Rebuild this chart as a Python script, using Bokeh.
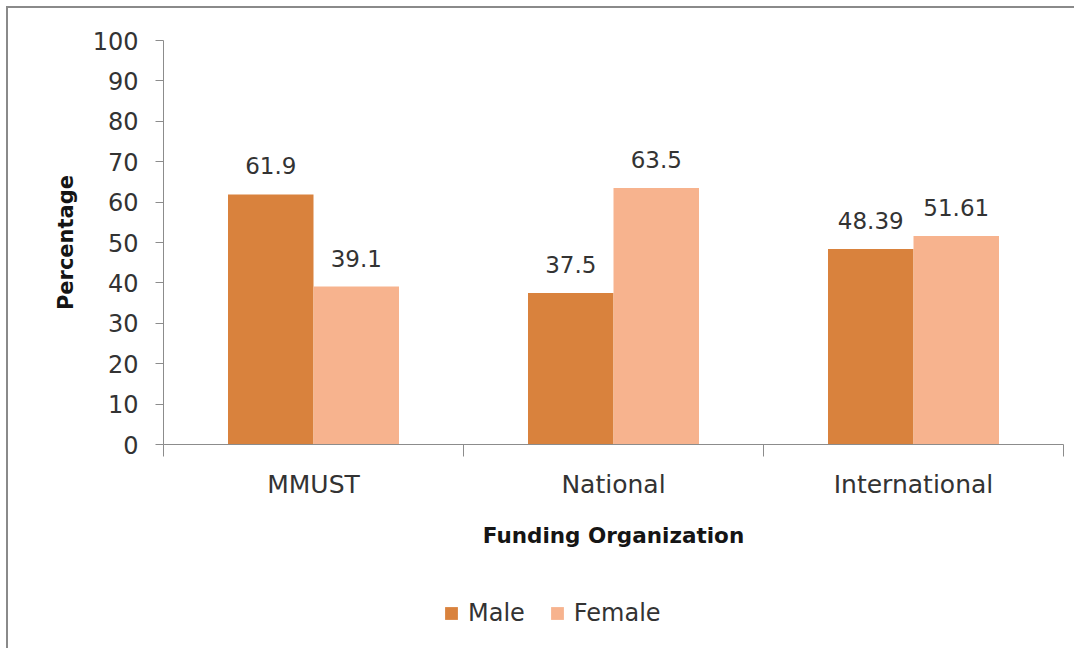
from bokeh.plotting import figure
from bokeh.layouts import column
from bokeh.models import (ColumnDataSource, Range1d, LinearAxis,
                          FixedTicker, LabelSet, Legend, LegendItem)
from bokeh.core.properties import value
from bokeh.embed import file_html
from bokeh.resources import INLINE

# ---- data ----
categories = ["MMUST", "National", "International"]
male = [61.9, 37.5, 48.39]
female = [39.1, 63.5, 51.61]
male_labels = ["61.9", "37.5", "48.39"]
female_labels = ["39.1", "63.5", "51.61"]
y_ticks = [0, 10, 20, 30, 40, 50, 60, 70, 80, 90, 100]
series_names = ["Male", "Female"]

MALE_C = "#D9823D"
FEMALE_C = "#F7B38E"
AXIS_C = "#8C8C8C"
TXT_C = "#333333"
TITLE_C = "#151515"
FONT = "DejaVu Sans"

n = len(categories)
centers = [i + 0.5 for i in range(n)]
bounds = [float(i) for i in range(n + 1)]
w = 0.285
off = 0.1425
src = ColumnDataSource(dict(xm=[c - off for c in centers], xf=[c + off for c in centers],
                            male=male, female=female, ml=male_labels, fl=female_labels))

# ---------- main chart ----------
p = figure(x_range=Range1d(0, n), y_range=Range1d(0, 100),
           width=1066, height=548, output_backend="svg", toolbar_location=None,
           x_axis_location=None, min_border_left=155, min_border_right=11,
           min_border_top=32, min_border_bottom=112)
p.outline_line_color = None
p.xgrid.visible = False
p.ygrid.visible = False

p.vbar(x="xm", top="male", width=w, source=src, fill_color=MALE_C, line_color=None)
p.vbar(x="xf", top="female", width=w, source=src, fill_color=FEMALE_C, line_color=None)

for xcol, ycol, tcol in (("xm", "male", "ml"), ("xf", "female", "fl")):
    p.add_layout(LabelSet(x=xcol, y=ycol, text=tcol, source=src, text_align="center",
                          text_baseline="alphabetic", y_offset=20,
                          text_font=value(FONT), text_font_size="23px", text_color=TXT_C))

ya = p.yaxis[0]
ya.ticker = FixedTicker(ticks=y_ticks)
ya.axis_line_color = AXIS_C
ya.major_tick_line_color = AXIS_C
ya.minor_tick_line_color = None
ya.major_tick_in = 0
ya.major_tick_out = 8
ya.major_label_standoff = 17
ya.major_label_text_font = FONT
ya.major_label_text_font_size = "24px"
ya.major_label_text_color = TXT_C
ya.axis_label = "Percentage"
ya.axis_label_text_font = FONT
ya.axis_label_text_font_style = "bold"
ya.axis_label_text_font_size = "21px"
ya.axis_label_text_color = TITLE_C
ya.axis_label_standoff = 12

cx = LinearAxis(ticker=FixedTicker(ticks=centers, minor_ticks=bounds),
                major_label_overrides={c: name for c, name in zip(centers, categories)},
                axis_line_color=AXIS_C, major_tick_line_color=None,
                major_tick_in=0, major_tick_out=12,
                minor_tick_line_color=AXIS_C, minor_tick_in=0, minor_tick_out=12,
                major_label_standoff=13, major_label_text_font=FONT,
                major_label_text_font_size="25px", major_label_text_color=TXT_C,
                axis_label="Funding Organization", axis_label_text_font=FONT,
                axis_label_text_font_style="bold", axis_label_text_font_size="21.5px",
                axis_label_text_color=TITLE_C, axis_label_standoff=21)
p.add_layout(cx, "below")

# ---------- legend strip (same series, drawn out of view) ----------
lg = figure(x_range=Range1d(10, 11), y_range=Range1d(200, 201),
            width=1066, height=92, output_backend="svg", toolbar_location=None,
            x_axis_location=None, y_axis_location=None, min_border=0)
lg.outline_line_color = None
lg.xgrid.visible = False
lg.ygrid.visible = False
lm = lg.vbar(x="xm", top="male", width=w, source=src, fill_color=MALE_C, line_color=None)
lf = lg.vbar(x="xf", top="female", width=w, source=src, fill_color=FEMALE_C, line_color=None)

legend = Legend(items=[LegendItem(label=series_names[0], renderers=[lm]),
                       LegendItem(label=series_names[1], renderers=[lf])],
                orientation="horizontal", location=(280, 21),
                border_line_color=None, background_fill_alpha=0,
                padding=6, margin=0, spacing=24, label_standoff=9,
                glyph_width=16, glyph_height=16,
                label_text_font=FONT, label_text_font_size="24px",
                label_text_color=TXT_C)
lg.add_layout(legend, "center")

layout = column(p, lg, spacing=0)
layout.styles = {"margin-left": "6px", "margin-top": "6px",
                 "border-top": "2px solid #8A8A8A", "border-left": "2px solid #8A8A8A"}

open("out.html", "w").write(file_html(layout, INLINE))
